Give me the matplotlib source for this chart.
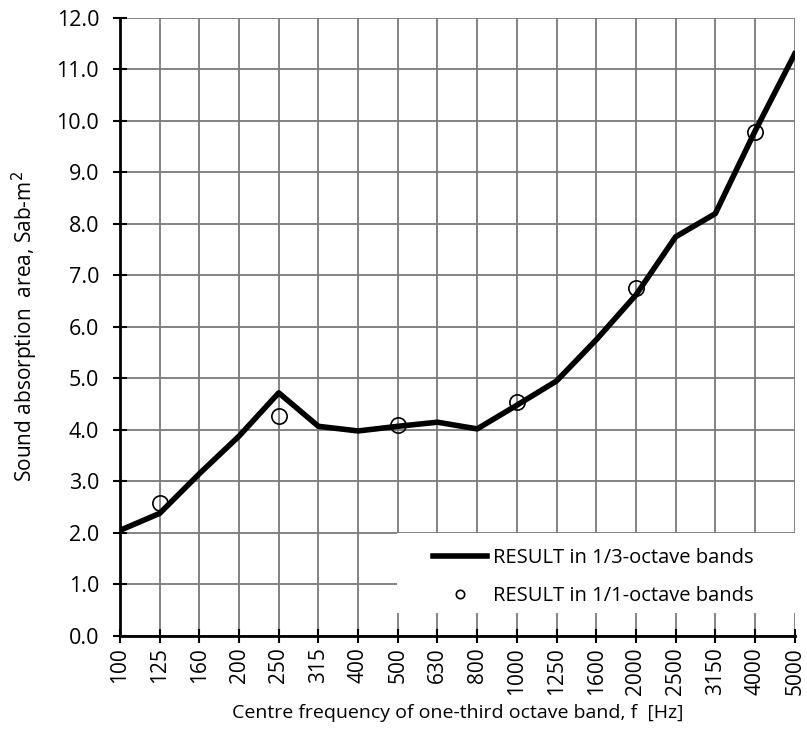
import matplotlib.pyplot as plt
from matplotlib.patches import Rectangle
import numpy as np

plt.rcParams['font.family'] = ['Open Sans', 'DejaVu Sans']

freqs = ["100", "125", "160", "200", "250", "315", "400", "500", "630",
         "800", "1000", "1250", "1600", "2000", "2500", "3150", "4000", "5000"]
third_octave = [2.05, 2.38, 3.15, 3.88, 4.72, 4.07, 3.98, 4.07, 4.15,
                4.02, 4.48, 4.95, 5.75, 6.62, 7.75, 8.20, 9.80, 11.30]
octave_freqs = ["125", "250", "500", "1000", "2000", "4000"]
octave_vals = [2.58, 4.27, 4.10, 4.55, 6.75, 9.78]

x = np.arange(len(freqs))
xo = [freqs.index(f) for f in octave_freqs]

fig = plt.figure(figsize=(8.07, 7.49), dpi=100)
ax = fig.add_axes([0.1487, 0.151, 0.836, 0.825])

ax.plot(x, third_octave, color="black", lw=4, label="RESULT in 1/3-octave bands", zorder=3)
ax.plot(xo, octave_vals, "o", ms=11, mfc="none", mec="black", mew=1.2,
        label="RESULT in 1/1-octave bands", zorder=4)

ax.set_xlim(0, len(freqs) - 1)
ax.set_ylim(0, 12)
ax.set_xticks(x)
ax.set_xticklabels(freqs, rotation=90, fontsize=15)
yt = np.arange(0, 12.1, 1.0)
ax.set_yticks(yt)
ax.set_yticklabels([f"{v:.1f}" for v in yt], fontsize=15.5)
ax.grid(True, color="#7a7a7a", lw=1.3)
ax.set_axisbelow(True)
ax.tick_params(direction="inout", length=10, width=1.5)
ax.tick_params(axis="y", pad=10)
ax.tick_params(axis="x", pad=3)

for s in ["top", "right"]:
    ax.spines[s].set_visible(False)
for s in ["left", "bottom"]:
    ax.spines[s].set_linewidth(2)

ax.set_xlabel("Centre frequency of one-third octave band, f  [Hz]", fontsize=14)
ax.xaxis.set_label_coords(0.5, -0.11)
ax.set_ylabel("Sound absorption  area, Sab-m$^2$", fontsize=15)
ax.yaxis.set_label_coords(-0.118, 0.5)

# white box behind the legend
ax.add_patch(Rectangle((0.41, 0.037), 0.59, 0.13, transform=ax.transAxes,
                       facecolor="white", edgecolor="none", zorder=2))
leg = ax.legend(loc="upper left", bbox_to_anchor=(0.4637, 0.1424), frameon=False,
                fontsize=14.5, handlelength=2.7, borderpad=0, borderaxespad=0,
                labelspacing=0.9, handletextpad=0.3, markerscale=0.55)
leg.set_zorder(5)

fig.savefig("out.png", dpi=100)
